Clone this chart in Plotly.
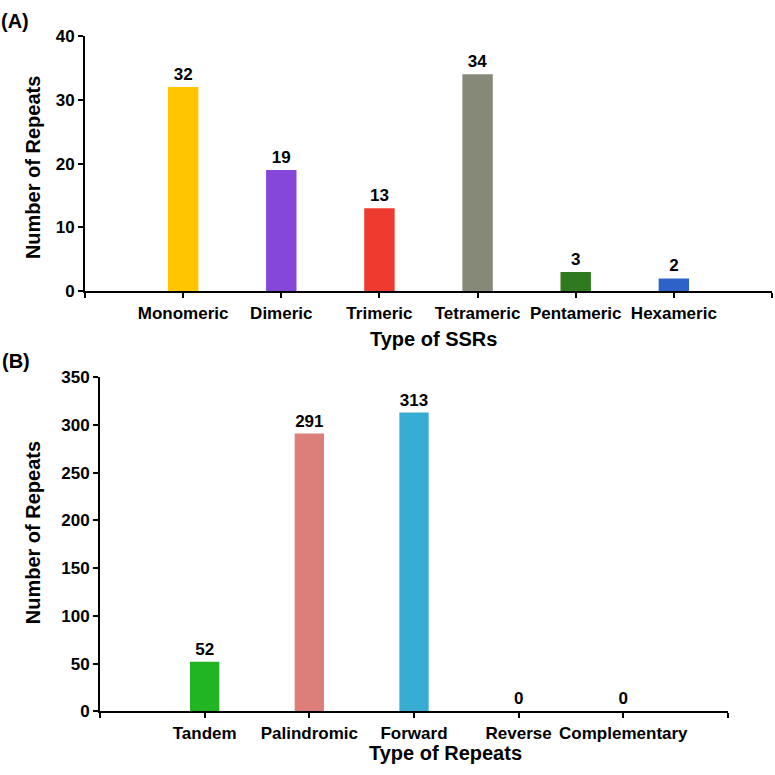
import plotly.graph_objects as go

# Panel A - SSR types
ssr_types = ["Monomeric", "Dimeric", "Trimeric", "Tetrameric", "Pentameric", "Hexameric"]
ssr_counts = [32, 19, 13, 34, 3, 2]
ssr_colors = ["#FFC600", "#8547D9", "#EF3A2F", "#868878", "#2F7A1F", "#2F62C8"]

# Panel B - repeat types
rep_types = ["Tandem", "Palindromic", "Forward", "Reverse", "Complementary"]
rep_counts = [52, 291, 313, 0, 0]
rep_colors = ["#22B523", "#DC7F7A", "#36ACD3", "#36ACD3", "#36ACD3"]

FONT = "Liberation Sans, Arial, sans-serif"
W = H = 775


def px(x):
    return x / W


def py(y):
    # the photographed page comes out slightly squashed vertically, compensate
    y = (y - 8) / 0.975
    return min(max(1 - y / H, 0), 1)


fig = go.Figure()

fig.add_trace(go.Bar(
    x=list(range(1, len(ssr_types) + 1)), y=ssr_counts,
    marker=dict(color=ssr_colors, line=dict(width=0)),
    width=0.31, text=ssr_counts, textposition="outside", cliponaxis=False,
    textfont=dict(family=FONT, size=17, color="black", weight="bold"),
    xaxis="x", yaxis="y", showlegend=False,
))
fig.add_trace(go.Bar(
    x=list(range(1, len(rep_types) + 1)), y=rep_counts,
    marker=dict(color=rep_colors, line=dict(width=0)),
    width=0.28, text=rep_counts, textposition="outside", cliponaxis=False,
    textfont=dict(family=FONT, size=17, color="black", weight="bold"),
    xaxis="x2", yaxis="y2", showlegend=False,
))

tickfont = dict(family=FONT, size=17, color="black", weight="bold")
axis_common = dict(showline=True, linecolor="black", linewidth=2, ticks="outside",
                   ticklen=5, tickwidth=2, tickcolor="black", showgrid=False,
                   zeroline=False, tickfont=tickfont)

fig.update_layout(
    width=W, height=H,
    margin=dict(l=0, r=0, t=0, b=0),
    paper_bgcolor="white", plot_bgcolor="white",
    xaxis=dict(domain=[px(85), px(772)], range=[0, len(ssr_types) + 1],
               tickvals=list(range(0, len(ssr_types) + 2)),
               ticktext=[""] + ssr_types + [""], anchor="y", **axis_common),
    yaxis=dict(domain=[py(290), py(35)], range=[0, 40], dtick=10, anchor="x",
               **axis_common),
    xaxis2=dict(domain=[px(100), px(728)], range=[0, len(rep_types) + 1],
                tickvals=list(range(0, len(rep_types) + 2)),
                ticktext=[""] + rep_types + [""], anchor="y2", **axis_common),
    yaxis2=dict(domain=[py(710), py(376)], range=[0, 350], dtick=50, anchor="x2",
                **axis_common),
)

title_font = dict(family=FONT, size=20, color="black", weight="bold")
annots = [
    dict(text="(A)", x=px(0), y=1, xanchor="left", yanchor="top", borderpad=0),
    dict(text="(B)", x=px(0), y=py(360), xanchor="left", yanchor="middle"),
    dict(text="Number of Repeats", x=px(33), y=py(167), textangle=-90,
         xanchor="center", yanchor="middle"),
    dict(text="Number of Repeats", x=px(33), y=py(532), textangle=-90,
         xanchor="center", yanchor="middle"),
    dict(text="Type of SSRs", x=px(433), y=py(338), xanchor="center", yanchor="middle"),
    dict(text="Type of Repeats", x=px(445), y=0, xanchor="center", yanchor="bottom",
         borderpad=0),
]
for a in annots:
    fig.add_annotation(xref="paper", yref="paper", showarrow=False, font=title_font, **a)

# pin the 775px figure to the window corner so page margins don't shift it
pin = ("document.body.style.margin='0';"
       "var d=document.getElementById('{plot_id}');"
       "d.style.position='fixed';d.style.left='0';d.style.top='0';")
fig.write_html("out.html", config={"displayModeBar": False}, post_script=pin)
